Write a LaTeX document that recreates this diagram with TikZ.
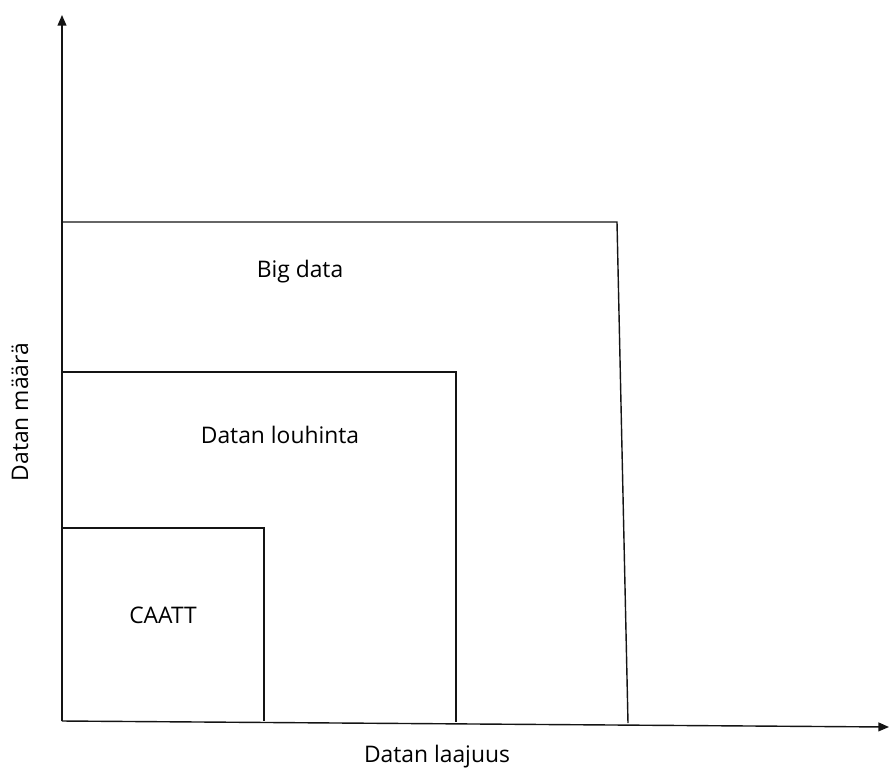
\documentclass[tikz,border=0pt]{standalone}
\usepackage{fontspec}
\setmainfont{Open Sans}
\usetikzlibrary{arrows.meta, positioning}
\definecolor{linegray}{RGB}{20, 20, 20}

\begin{document}
\begin{tikzpicture}[x=0.02cm, y=-0.02cm, >={Triangle[length=6pt,width=5pt]}, every node/.style={font=\fontsize{13}{15}\selectfont}]
\useasboundingbox (0,0) rectangle (890,769);

% Axes
\coordinate (O) at (62,721);
\coordinate (ytop) at (62,15);
\coordinate (xend) at (889,727);
\draw[->,thick,linegray] (O) -- (ytop);
\draw[->,thick,linegray] (O) -- (xend);

% Corners of the boxes
\coordinate (big1) at (62,222);
\coordinate (big2) at (617,222);
\coordinate (big3) at (628,723);
\coordinate (min1) at (62,372);
\coordinate (min2) at (456,372);
\coordinate (min3) at (456,722);
\coordinate (caa1) at (62,528);
\coordinate (caa2) at (264,528);
\coordinate (caa3) at (264,721);

% Boxes
\draw[thick,linegray] (big1) -- (big2) -- (big3);
\draw[thick,linegray] (min1) -- (min2) -- (min3);
\draw[thick,linegray] (caa1) -- (caa2) -- (caa3);

% Labels
\node at (300,272) (bigdata) {Big data};
\node at (280,435) (mining) {Datan louhinta};
\node at (163,615) (caatt) {CAATT};
\node at (437,757) (xlabel) {Datan laajuus};
\node[rotate=90] at (20,412) (ylabel) {Datan määrä};
\end{tikzpicture}
\end{document}
